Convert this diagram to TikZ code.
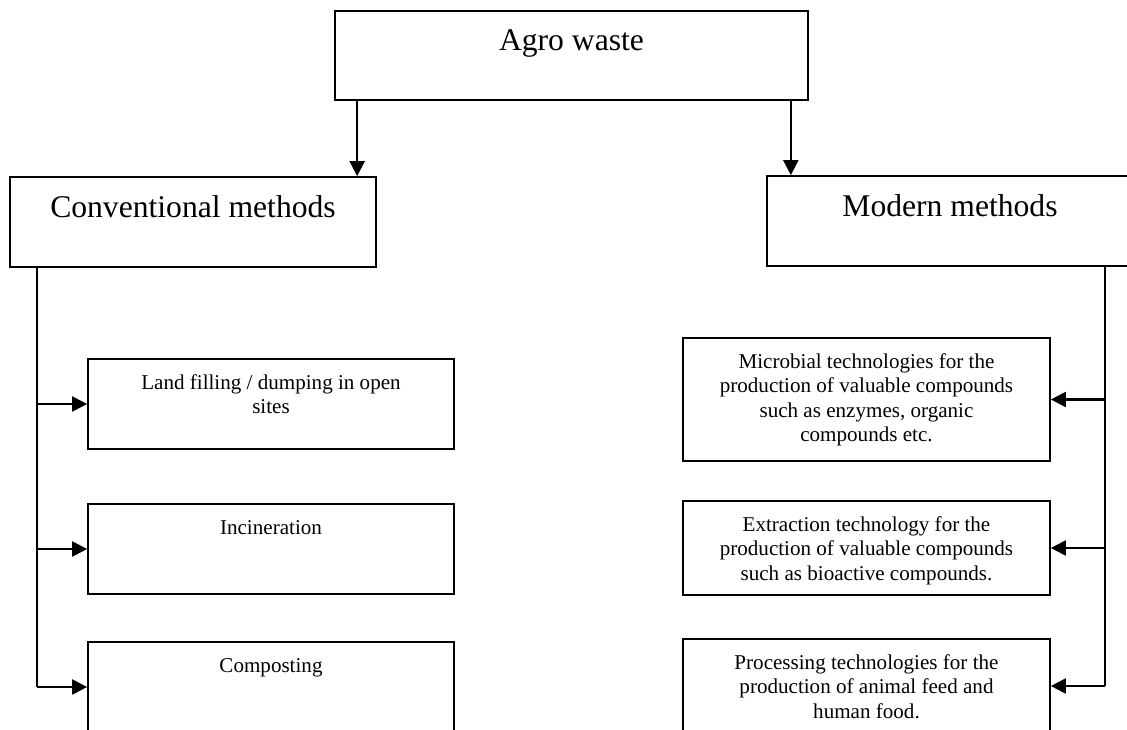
\documentclass[tikz,border=0pt]{standalone}
\usepackage{fontspec}
\setmainfont{Liberation Serif}
\usetikzlibrary{positioning,arrows.meta}

\tikzset{
    box/.style={draw, line width=1pt, minimum width=7.32cm, minimum height=1.8cm, inner sep=0pt},
    bigtxt/.style={anchor=base, inner sep=0pt, font=\fontsize{18}{21}\selectfont},
    smalltxt/.style={anchor=base, inner sep=0pt, font=\fontsize{12}{14}\selectfont},
    line/.style={line width=1pt},
    arr/.style={line width=1.2pt, -{Triangle[length=0.3cm, width=0.3cm]}}
}

\begin{document}
\begin{tikzpicture}[x=0.02cm, y=-0.02cm]
    \useasboundingbox (0,0) rectangle (1127,730);
    \clip (0,0) rectangle (1127,730);

    % Top level
    \node[box, minimum width=9.46cm, minimum height=1.78cm] (agro) at (571.5,55.5) {};
    \node[bigtxt] (agrotxt) at ([yshift=-0.8cm]agro.north) {Agro waste};

    % Two kinds of methods
    \node[box] (conv) at (193,222) {};
    \node[bigtxt] (convtxt) at ([yshift=-0.82cm]conv.north) {Conventional methods};
    \node[box] (modern) at (950,221) {};
    \node[bigtxt] (moderntxt) at ([yshift=-0.82cm]modern.north) {Modern methods};

    \coordinate (a1) at ([xshift=0.46cm]agro.south west);
    \coordinate (a2) at ([xshift=-0.36cm]agro.south east);
    \draw[arr] (a1) -- (a1 |- conv.north);
    \draw[arr] (a2) -- (a2 |- modern.north);

    % Conventional methods
    \node[box] (land) at (271,404) {};
    \node[smalltxt] (landtxt) at ([yshift=-0.62cm]land.north) {\begin{tabular}[t]{c}
        Land filling / dumping in open\\
        sites
    \end{tabular}};
    \node[box] (incin) at (271,549) {};
    \node[smalltxt] (incintxt) at ([yshift=-0.62cm]incin.north) {Incineration};
    \node[box] (comp) at (271,687) {};
    \node[smalltxt] (comptxt) at ([yshift=-0.62cm]comp.north) {Composting};

    \coordinate (lt) at ([xshift=0.56cm]conv.south west);
    \draw[line] (lt) -- (lt |- comp.west);
    \draw[arr] (lt |- land.west) -- (land.west);
    \draw[arr] (lt |- incin.west) -- (incin.west);
    \draw[arr] (lt |- comp.west) -- (comp.west);

    % Modern methods
    \node[box, minimum width=7.34cm, minimum height=2.46cm] (micro) at (866.5,399.5) {};
    \node[smalltxt] (microtxt) at ([yshift=-0.62cm]micro.north) {\begin{tabular}[t]{c}
        Microbial technologies for the\\
        production of valuable compounds\\
        such as enzymes, organic\\
        compounds etc.
    \end{tabular}};
    \node[box, minimum width=7.34cm, minimum height=1.88cm] (extr) at (866.5,548) {};
    \node[smalltxt] (extrtxt) at ([yshift=-0.62cm]extr.north) {\begin{tabular}[t]{c}
        Extraction technology for the\\
        production of valuable compounds\\
        such as bioactive compounds.
    \end{tabular}};
    \node[box, minimum width=7.34cm, minimum height=1.88cm] (proc) at (866.5,686) {};
    \node[smalltxt] (proctxt) at ([yshift=-0.62cm]proc.north) {\begin{tabular}[t]{c}
        Processing technologies for the\\
        production of animal feed and\\
        human food.
    \end{tabular}};

    \coordinate (rt) at ([xshift=-0.58cm]modern.south east);
    \draw[line] (rt) -- (rt |- proc.east);
    \draw[arr] (rt |- micro.east) -- (micro.east);
    \draw[arr] (rt |- extr.east) -- (extr.east);
    \draw[arr] (rt |- proc.east) -- (proc.east);
\end{tikzpicture}
\end{document}
